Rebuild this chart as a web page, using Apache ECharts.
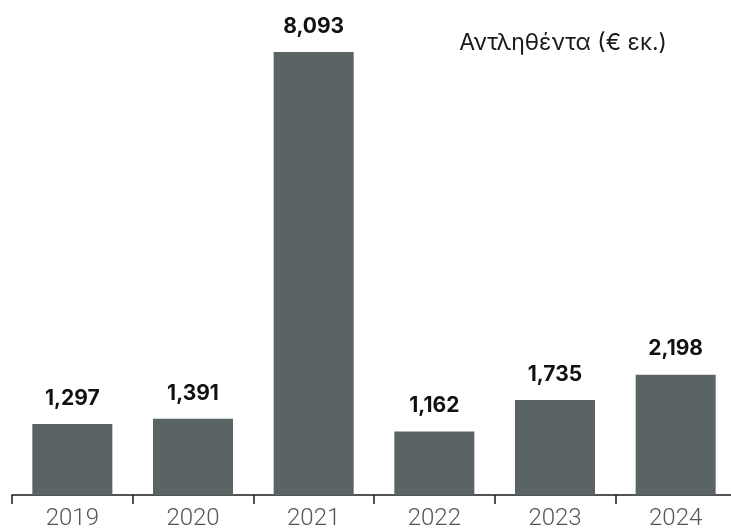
<!DOCTYPE html>
<html>
<head>
<meta charset="utf-8">
<script src="https://cdn.jsdelivr.net/npm/echarts@6/dist/echarts.min.js"></script>
<style>
html,body{margin:0;padding:0;background:#fff;}
#c{width:731px;height:531px;}
</style>
</head>
<body>
<div id="c"></div>
<script>
const categories = ['2019', '2020', '2021', '2022', '2023', '2024'];
const values = [1297, 1391, 8093, 1162, 1735, 2198];
const titleText = 'Αντληθέντα (€ εκ.)';

const chart = echarts.init(document.getElementById('c'));
chart.setOption({
  animation: false,
  backgroundColor: '#ffffff',
  title: {
    text: titleText,
    right: 59,
    top: 27,
    textStyle: { fontFamily: 'Inter', fontSize: 23, fontWeight: 'normal', color: '#1a1a1a' }
  },
  grid: { left: 12, right: -5, top: 52, bottom: 36, outerBoundsMode: 'none', containLabel: false },
  xAxis: {
    type: 'category',
    data: categories,
    axisLine: { show: true, lineStyle: { color: '#1a1a1a', width: 1.5 } },
    axisTick: { show: true, length: 9, lineStyle: { color: '#1a1a1a', width: 1.5 } },
    axisLabel: { fontFamily: 'Roboto', fontWeight: 300, fontSize: 24, color: '#555555', margin: 12 }
  },
  yAxis: {
    type: 'value',
    min: 0,
    max: 8093,
    show: false,
    splitLine: { show: false }
  },
  series: [{
    type: 'bar',
    data: values,
    barWidth: 80,
    itemStyle: { color: '#5a6465' },
    label: {
      show: true,
      position: 'top',
      distance: 15,
      fontFamily: 'Inter',
      fontWeight: 'bold',
      fontSize: 21,
      color: '#111111',
      formatter: p => p.value.toLocaleString('en-US')
    }
  }]
});
</script>
</body>
</html>
